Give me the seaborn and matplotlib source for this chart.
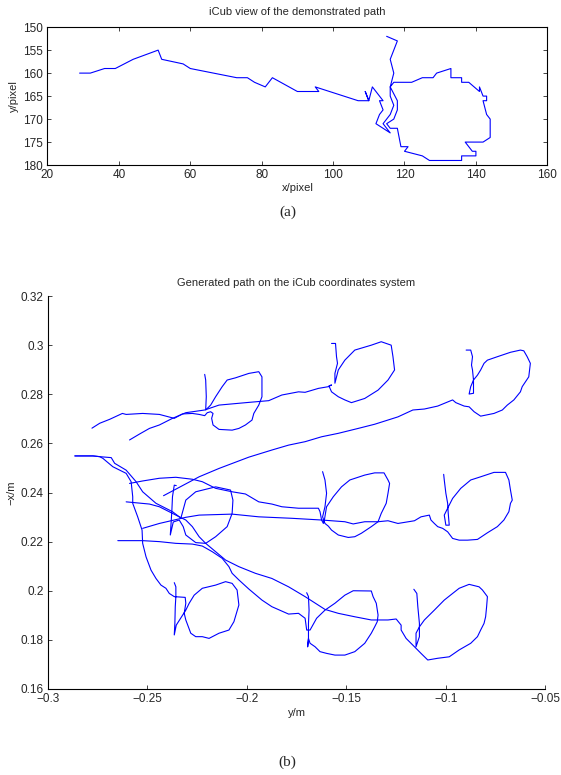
import numpy as np
import pandas as pd
import matplotlib
matplotlib.use("Agg")
import matplotlib.pyplot as plt
import seaborn as sns

# (a) demonstrated path, image pixels
px_x = [29, 32, 36, 39, 44, 51, 52, 58, 60, 73, 76, 78, 81, 83, 90, 96, 95, 107, 110, 109,
        110, 111, 113, 114, 113, 114, 113, 112, 114, 116, 114, 116, 117, 116, 116, 117, 122, 125, 128, 129,
        133, 133, 136, 136, 138, 141, 141, 142, 143, 143, 142, 143, 144, 144, 142, 137, 139, 140, 140, 136,
        136, 127, 125, 120, 121, 119, 118, 116, 115, 117, 118, 118, 116, 117, 116, 118, 115]
px_y = [160, 160, 159, 159, 157, 155, 157, 158, 159, 161, 161, 162, 163, 161, 164, 164, 163, 166, 166, 164,
        166, 163, 165, 166, 166, 168, 169, 171, 172, 173, 171, 169, 167, 165, 163, 162, 162, 161, 161, 160,
        159, 161, 161, 162, 162, 164, 163, 165, 165, 166, 166, 169, 170, 174, 175, 175, 177, 177, 178, 178,
        179, 179, 178, 177, 176, 176, 172, 172, 171, 170, 168, 166, 163, 160, 157, 153, 152]

# (b) generated paths: ym = y/m (horizontal), nx = -x/m (vertical)
ym_1 = [-0.2779, -0.274, -0.269, -0.2626, -0.2607, -0.2524, -0.244, -0.2407, -0.2365, -0.2324,
        -0.2274, -0.224, -0.2212, -0.2199, -0.2182, -0.217, -0.2177, -0.217, -0.214, -0.2074,
        -0.204, -0.2007, -0.1974, -0.1965, -0.194, -0.1924, -0.1924, -0.194, -0.199, -0.2057,
        -0.2099, -0.2124, -0.2157, -0.2182, -0.2207, -0.2204, -0.2207, -0.2212]
nx_1 = [0.2662, 0.2682, 0.2698, 0.2722, 0.2718, 0.2722, 0.2718, 0.2711, 0.2702, 0.2720,
        0.2722, 0.2718, 0.2713, 0.2725, 0.2729, 0.2722, 0.2702, 0.2675, 0.2657, 0.2654,
        0.2661, 0.2675, 0.2695, 0.2722, 0.2756, 0.2790, 0.2871, 0.2892, 0.2885, 0.2867,
        0.2858, 0.2831, 0.2790, 0.2756, 0.2736, 0.2790, 0.2858, 0.2881]

ym_2 = [-0.259, -0.254, -0.249, -0.244, -0.2374, -0.2307, -0.2212, -0.214, -0.199, -0.189,
        -0.1824, -0.174, -0.1707, -0.164, -0.159, -0.1574,
        -0.1587, -0.1574, -0.154, -0.1507, -0.1474, -0.1407, -0.134, -0.129, -0.1257, -0.1265,
        -0.1274, -0.1324, -0.1374, -0.1457, -0.1507, -0.154, -0.1557,
        -0.1557, -0.1544, -0.1549, -0.1554, -0.1574]
nx_2 = [0.2614, 0.2638, 0.2661, 0.2675, 0.2702, 0.2725, 0.2736, 0.2756, 0.2767, 0.2774,
        0.2797, 0.2810, 0.2808, 0.2824, 0.2831, 0.2838,
        0.2834, 0.2810, 0.2790, 0.2777, 0.2766, 0.2783, 0.2817, 0.2858, 0.2899, 0.2953,
        0.3000, 0.3014, 0.3000, 0.2980, 0.2939, 0.2899, 0.2845,
        0.2885, 0.2926, 0.2953, 0.3007, 0.3007]

ym_3 = [-0.2419, -0.224, -0.214, -0.199, -0.1874, -0.179, -0.1707, -0.1624, -0.154, -0.144,
        -0.1357, -0.124, -0.1165, -0.1107, -0.104, -0.0965, -0.0949,
        -0.0907, -0.0882, -0.0857, -0.0824, -0.0757, -0.0715, -0.069, -0.0657, -0.0624, -0.0615,
        -0.0582, -0.0574, -0.059, -0.0607, -0.0624, -0.0674, -0.074, -0.079, -0.0807, -0.0824,
        -0.084, -0.086, -0.0874, -0.0882, -0.086,
        -0.086, -0.0865, -0.087, -0.0865, -0.0874, -0.0897]
nx_3 = [0.2387, 0.2464, 0.2498, 0.2544, 0.2573, 0.2593, 0.2607, 0.2627, 0.2641, 0.2661,
        0.2678, 0.2708, 0.2736, 0.2740, 0.2752, 0.2777, 0.2766,
        0.2752, 0.2749, 0.2729, 0.2711, 0.2722, 0.2736, 0.2756, 0.2777, 0.2810, 0.2831,
        0.2871, 0.2926, 0.2953, 0.2977, 0.2980, 0.2971, 0.2953, 0.2939, 0.2926, 0.2899,
        0.2878, 0.2858, 0.2831, 0.2801, 0.2804,
        0.2858, 0.2899, 0.2919, 0.2953, 0.2980, 0.2980]

ym_4 = [-0.2607, -0.249, -0.244, -0.2374, -0.234,
        -0.2332, -0.2307, -0.2257, -0.2157, -0.2082, -0.207, -0.2074, -0.2099, -0.2157, -0.2207,
        -0.2257, -0.2307, -0.232, -0.234,
        -0.237, -0.2385, -0.238, -0.2377, -0.2374, -0.2365, -0.2355]
nx_4 = [0.2362, 0.2353, 0.2342, 0.2315, 0.2301,
        0.2295, 0.2369, 0.2403, 0.2423, 0.2410, 0.2369, 0.2315, 0.2261, 0.2220, 0.2193,
        0.2196, 0.2227, 0.2261, 0.2288,
        0.2280, 0.2227, 0.2288, 0.2329, 0.2383, 0.2430, 0.2428]

ym_5 = [-0.259, -0.2524, -0.244, -0.2357, -0.2274, -0.2224, -0.2157, -0.2074, -0.2007, -0.194,
        -0.1874, -0.1824, -0.174, -0.164, -0.1632, -0.1624, -0.1615,
        -0.161, -0.1599, -0.1565, -0.1524, -0.1482, -0.1407, -0.1357, -0.131, -0.129, -0.1282,
        -0.129, -0.1299, -0.1324, -0.134, -0.1374, -0.1424, -0.1457, -0.149, -0.154, -0.1574,
        -0.159, -0.1607,
        -0.161, -0.1619, -0.1607, -0.1599, -0.1607, -0.1619]
nx_5 = [0.2437, 0.2447, 0.2458, 0.2462, 0.2454, 0.2444, 0.2417, 0.2403, 0.2394, 0.2362,
        0.2353, 0.2342, 0.2336, 0.2336, 0.2322, 0.2288, 0.2274,
        0.2288, 0.2342, 0.2383, 0.2423, 0.2451, 0.2471, 0.2480, 0.2480, 0.2451, 0.2437,
        0.2397, 0.2356, 0.2315, 0.2281, 0.2261, 0.2234, 0.2220, 0.2217, 0.2227, 0.2247,
        0.2263, 0.2274,
        0.2281, 0.2301, 0.2342, 0.2397, 0.2451, 0.2485]

ym_6 = [-0.2524, -0.244, -0.2307, -0.224, -0.2074, -0.194, -0.1774, -0.1624, -0.1507, -0.1465,
        -0.1407, -0.134, -0.129, -0.124, -0.1157, -0.1124, -0.1082, -0.1074, -0.1057, -0.104,
        -0.1015, -0.099, -0.0965, -0.0932, -0.089, -0.084, -0.079, -0.074, -0.0707, -0.0682,
        -0.0674, -0.0665, -0.0674, -0.0682, -0.0699, -0.0757, -0.0824, -0.0874, -0.0924, -0.0965,
        -0.099, -0.1007, -0.0999, -0.0982, -0.0987, -0.099, -0.0999, -0.1007, -0.101]
nx_6 = [0.2254, 0.2274, 0.2299, 0.2308, 0.2312, 0.2301, 0.2295, 0.2288, 0.2281, 0.2272,
        0.2281, 0.2281, 0.2285, 0.2274, 0.2285, 0.2301, 0.2308, 0.2288, 0.2274, 0.2261,
        0.2254, 0.2240, 0.2213, 0.2206, 0.2206, 0.2209, 0.2236, 0.2261, 0.2288, 0.2322,
        0.2356, 0.2369, 0.2410, 0.2451, 0.2482, 0.2482, 0.2464, 0.2451, 0.2417, 0.2376,
        0.2336, 0.2308, 0.2267, 0.2267, 0.2315, 0.2356, 0.2397, 0.2451, 0.2474]

ym_7 = [-0.2865, -0.2774, -0.274, -0.2724, -0.2674, -0.2607, -0.2582, -0.2574, -0.2574, -0.2549,
        -0.2527, -0.2524, -0.2507, -0.2482, -0.2457, -0.2432, -0.2407, -0.239, -0.2365, -0.231,
        -0.2307, -0.2315, -0.2307, -0.2282, -0.2257, -0.2224, -0.219, -0.214, -0.209, -0.2065,
        -0.204, -0.2049, -0.2074, -0.2107, -0.2157, -0.2224, -0.2265, -0.229, -0.2307,
        -0.2355, -0.2365, -0.2362, -0.236, -0.2357, -0.2357, -0.2365]
nx_7 = [0.2549, 0.2549, 0.2546, 0.2539, 0.2505, 0.2478, 0.2444, 0.2383, 0.2356, 0.2301,
        0.2247, 0.2193, 0.2138, 0.2084, 0.2050, 0.2023, 0.2010, 0.1989, 0.1976, 0.1973,
        0.1949, 0.1908, 0.1881, 0.1827, 0.1813, 0.1813, 0.1806, 0.1827, 0.1840, 0.1874,
        0.1942, 0.2003, 0.2030, 0.2037, 0.2023, 0.2010, 0.1982, 0.1949, 0.1921,
        0.1860, 0.1820, 0.1867, 0.1935, 0.1976, 0.2016, 0.2033]

ym_8 = [-0.2649, -0.2524, -0.244, -0.2357, -0.2274, -0.2224, -0.2174, -0.2124, -0.209, -0.2074,
        -0.204, -0.199, -0.1924, -0.1874, -0.179, -0.174, -0.1707, -0.1699,
        -0.1682, -0.1649, -0.1607, -0.1557, -0.1507, -0.1465, -0.1374, -0.1365, -0.1349, -0.134,
        -0.1344, -0.1357, -0.1374, -0.1407, -0.1457, -0.1507, -0.1557, -0.1599, -0.1632, -0.1657,
        -0.1682, -0.169,
        -0.1694, -0.169, -0.169, -0.1687, -0.169, -0.1699]
nx_8 = [0.2204, 0.2204, 0.2200, 0.2193, 0.2190, 0.2182, 0.2159, 0.2132, 0.2098, 0.2071,
        0.2044, 0.2007, 0.1962, 0.1935, 0.1905, 0.1908, 0.1888, 0.1840,
        0.1840, 0.1888, 0.1921, 0.1949, 0.1982, 0.2000, 0.1999, 0.1976, 0.1949, 0.1901,
        0.1874, 0.1853, 0.1827, 0.1786, 0.1752, 0.1738, 0.1738, 0.1745, 0.1752, 0.1772,
        0.1786, 0.1806,
        0.1772, 0.1806, 0.1867, 0.1921, 0.1976, 0.1992]

ym_9 = [-0.2865, -0.2774, -0.274, -0.2682, -0.2665, -0.2607, -0.2557, -0.2524, -0.2457, -0.2374,
        -0.234, -0.2307, -0.2274, -0.224, -0.2207, -0.2157, -0.2107, -0.204, -0.1957, -0.1874,
        -0.179, -0.1707, -0.1607, -0.154, -0.1457, -0.1374, -0.129, -0.1249,
        -0.1224, -0.1224, -0.1199, -0.1157, -0.1124, -0.109, -0.104, -0.0982, -0.0932, -0.0874,
        -0.084, -0.0824, -0.0807, -0.0799, -0.0794, -0.079, -0.0815, -0.0832, -0.0882, -0.0932,
        -0.0965, -0.1007, -0.1057, -0.1107, -0.1132, -0.1149,
        -0.1149, -0.1132, -0.1132, -0.114, -0.1145, -0.116]
nx_9 = [0.2549, 0.2549, 0.2546, 0.2542, 0.2519, 0.2491, 0.2444, 0.2403, 0.2356, 0.2322,
        0.2301, 0.2288, 0.2261, 0.2220, 0.2193, 0.2159, 0.2125, 0.2098, 0.2071, 0.2050,
        0.2016, 0.1976, 0.1924, 0.1908, 0.1894, 0.1881, 0.1881, 0.1885,
        0.1860, 0.1840, 0.1806, 0.1772, 0.1745, 0.1718, 0.1725, 0.1731, 0.1759, 0.1786,
        0.1813, 0.1840, 0.1867, 0.1894, 0.1935, 0.1976, 0.2003, 0.2016, 0.2026, 0.2010,
        0.1989, 0.1962, 0.1921, 0.1881, 0.1853, 0.1827,
        0.1772, 0.1813, 0.1867, 0.1935, 0.1989, 0.2006]

ym_paths = [ym_1, ym_2, ym_3, ym_4, ym_5, ym_6, ym_7, ym_8, ym_9]
nx_paths = [nx_1, nx_2, nx_3, nx_4, nx_5, nx_6, nx_7, nx_8, nx_9]

top_xticks = [20, 40, 60, 80, 100, 120, 140, 160]
top_yticks = [150, 155, 160, 165, 170, 175, 180]
bot_xticks = [-0.3, -0.25, -0.2, -0.15, -0.1, -0.05]
bot_xlabels = ["\u22120.3", "\u22120.25", "\u22120.2", "\u22120.15", "\u22120.1", "\u22120.05"]
bot_yticks = [0.16, 0.18, 0.2, 0.22, 0.24, 0.26, 0.28, 0.3, 0.32]
bot_ylabels = ["0.16", "0.18", "0.2", "0.22", "0.24", "0.26", "0.28", "0.3", "0.32"]

sns.set_theme(style="ticks")
plt.rcParams["font.family"] = ["Liberation Sans", "DejaVu Sans"]
plt.rcParams["axes.linewidth"] = 0.8

fig = plt.figure(figsize=(5.61, 7.75), dpi=100)
fig.patch.set_facecolor("white")

# ---- (a)
ax1 = fig.add_axes([0.0846, 0.787, 0.891, 0.178])
demo = pd.DataFrame({"x": px_x, "y": px_y})
sns.lineplot(data=demo, x="x", y="y", sort=False, estimator=None, color="#0000ff", lw=0.8, ax=ax1)
ax1.set_xlim(20, 160)
ax1.set_ylim(180, 150)
ax1.set_xticks(top_xticks)
ax1.set_yticks(top_yticks)
ax1.set_title("iCub view of the demonstrated path", fontsize=8, pad=9)
ax1.set_xlabel("x/pixel", fontsize=8, labelpad=1)
ax1.set_ylabel("y/pixel", fontsize=8, labelpad=3)
ax1.tick_params(direction="in", length=3, width=0.6, labelsize=8.5, top=True, right=True, pad=3)
for s in ax1.spines.values():
    s.set_color("black")

# ---- (b)
rows = []
for i, (hx, vy) in enumerate(zip(ym_paths, nx_paths)):
    rows.append(pd.DataFrame({"ym": hx, "nx": vy, "run": i}))
gen = pd.concat(rows, ignore_index=True)

ax2 = fig.add_axes([0.0856, 0.111, 0.886, 0.507])
sns.lineplot(data=gen, x="ym", y="nx", units="run", estimator=None, sort=False,
             color="#0000ff", lw=0.8, ax=ax2)
ax2.set_xlim(-0.3, -0.05)
ax2.set_ylim(0.16, 0.32)
ax2.set_xticks(bot_xticks)
ax2.set_xticklabels(bot_xlabels)
ax2.set_yticks(bot_yticks)
ax2.set_yticklabels(bot_ylabels)
ax2.set_title("Generated path on the iCub coordinates system", fontsize=8, pad=7)
ax2.set_xlabel("y/m", fontsize=8, labelpad=2)
ax2.set_ylabel("\u2212x/m", fontsize=8, labelpad=3)
ax2.tick_params(direction="in", length=3, width=0.6, labelsize=8.5, pad=3)
sns.despine(ax=ax2)
for s in ax2.spines.values():
    s.set_color("black")

fig.text(0.513, 0.726, "(a)", ha="center", va="center", fontsize=11, family="Liberation Serif")
fig.text(0.513, 0.016, "(b)", ha="center", va="center", fontsize=11, family="Liberation Serif")

fig.savefig("out.png", dpi=100, facecolor="white")
